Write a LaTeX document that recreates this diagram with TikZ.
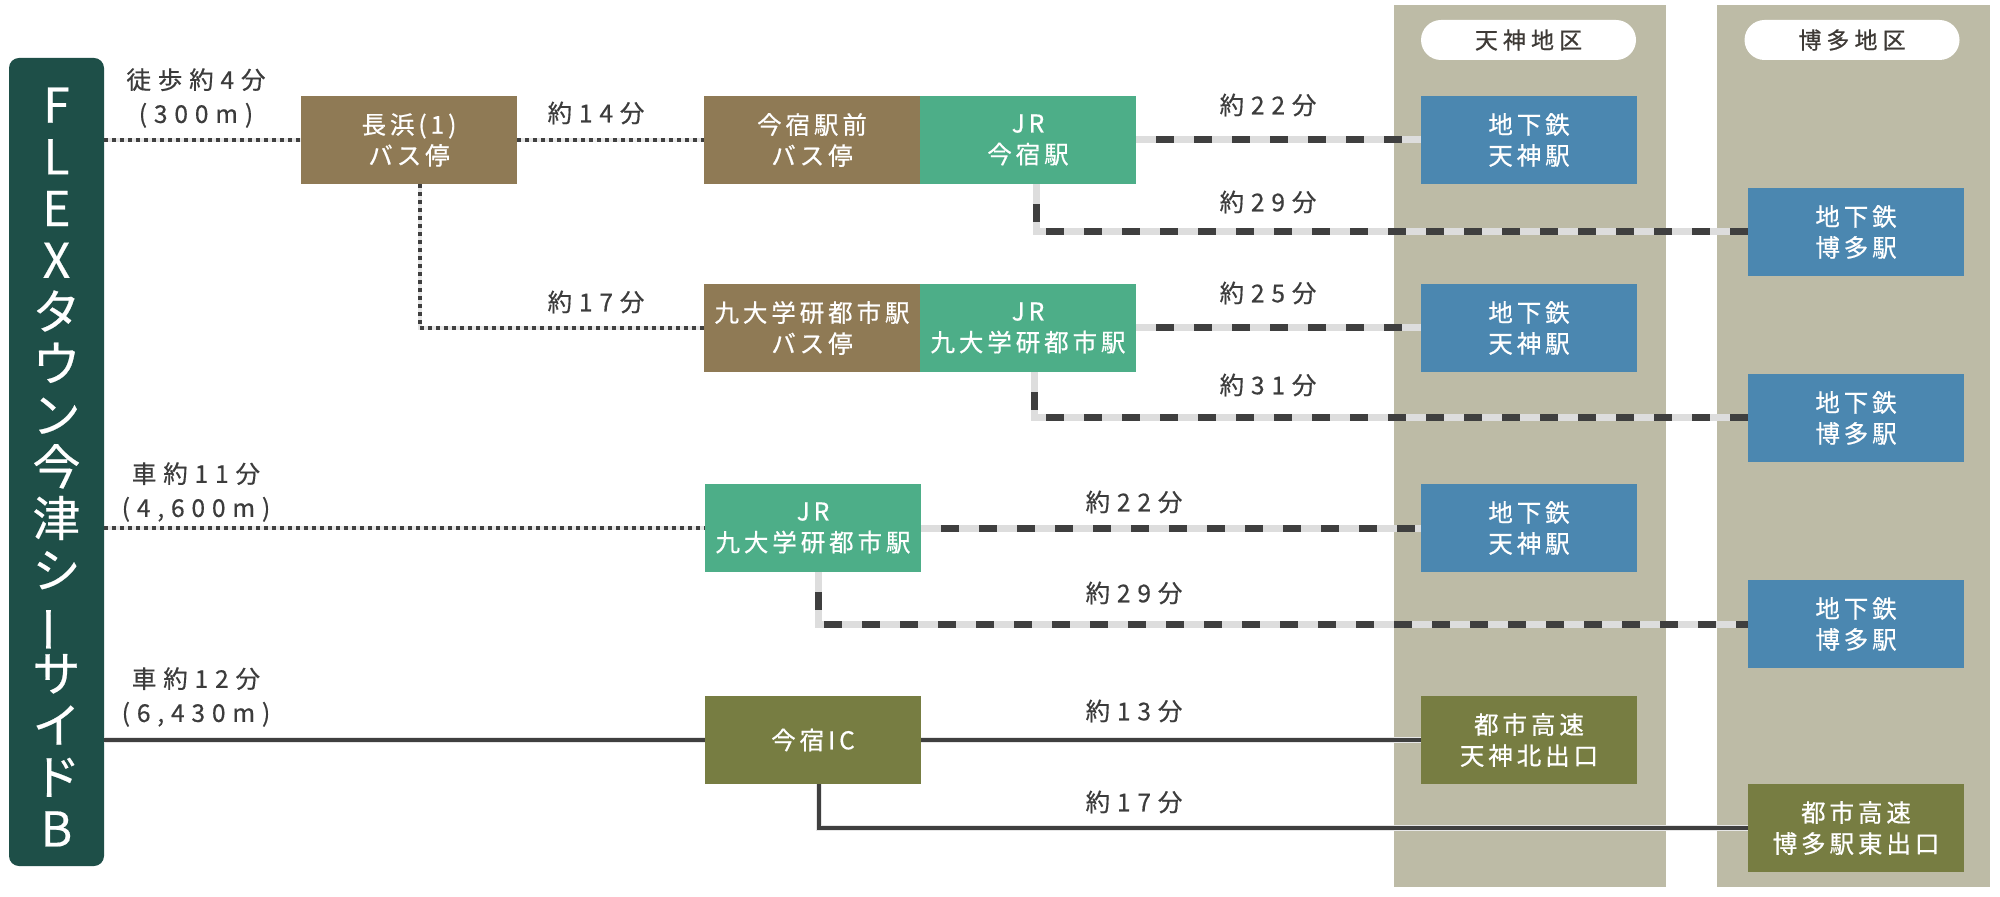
\documentclass[tikz,border=0pt]{standalone}
\usepackage{fontspec}
\setmainfont{Noto Sans CJK JP}
\newfontfamily\boxf[LetterSpace=16,FakeBold=0.6]{Noto Sans CJK JP}
\newfontfamily\labf[LetterSpace=28,FakeBold=0.5]{Noto Sans CJK JP}
\newfontfamily\headf[LetterSpace=22,FakeBold=0.6]{Noto Sans CJK JP}
\newfontfamily\flexf[FakeBold=0.4]{Noto Sans CJK JP}
\definecolor{flexgreen}{HTML}{1E4F48}
\definecolor{busbrown}{HTML}{8F7A55}
\definecolor{jrgreen}{HTML}{4DAE88}
\definecolor{subblue}{HTML}{4B87B0}
\definecolor{hwyolive}{HTML}{777D42}
\definecolor{colbg}{HTML}{BDBBA6}
\definecolor{labgray}{HTML}{3C3C3C}
\definecolor{headtext}{HTML}{3E3A36}
\definecolor{linedark}{HTML}{3F3F3F}
\definecolor{raillight}{HTML}{DDDDDD}
\definecolor{walklight}{HTML}{E6E6E6}
\begin{document}
\begin{tikzpicture}[x=0.5pt,y=-0.5pt,
  box/.style={minimum width=108pt, minimum height=44pt, inner sep=0pt, text=white, align=center, font=\boxf\fontsize{12.25pt}{15.5pt}\selectfont},
  bus/.style={box, fill=busbrown},
  jr/.style={box, fill=jrgreen},
  sub/.style={box, fill=subblue},
  hwy/.style={box, fill=hwyolive},
  lab/.style={text=labgray, align=center, inner sep=0pt, font=\labf\fontsize{12.25pt}{17pt}\selectfont},
  head/.style={fill=white, rounded corners=10pt, minimum width=107.5pt, minimum height=20pt, inner sep=0pt, text=headtext, font=\headf\fontsize{11.5pt}{12pt}\selectfont},
  flexbox/.style={fill=flexgreen, rounded corners=5pt, minimum width=47.5pt, minimum height=404pt, inner sep=0pt},
  flextext/.style={text=white, align=center, inner sep=0pt, font=\flexf\fontsize{24pt}{25.85pt}\selectfont},
  walk/.style={draw=linedark, line width=2pt, dash pattern=on 2pt off 2pt, preaction={draw=walklight, line width=2pt, solid}},
  rail/.style={draw=linedark, line width=3.5pt, dash pattern=on 9pt off 10pt, dash phase=9pt, preaction={draw=raillight, line width=3.5pt, solid}},
  road/.style={draw=linedark, line width=2.2pt, preaction={draw=walklight, line width=3.4pt}}
]
\useasboundingbox (0,0) rectangle (2000,897);
\fill[white] (0,0) rectangle (2000,897);
% district columns
\fill[colbg] (1394,5) rectangle (1666,887);
\fill[colbg] (1717,5) rectangle (1990,887);
\node[head] (hT) at (1528.5,40) {天神地区};
\node[head] (hH) at (1852,40) {博多地区};
% origin
\node[flexbox] (flex) at (56.5,462) {};
\node[flextext] (flext) at (56.5,467) {F\\L\\E\\X\\タ\\ウ\\ン\\今\\津\\シ\\\rotatebox[origin=c]{90}{ー}\\サ\\イ\\ド\\B};
% boxes
\node[bus] (nagahama) at (409,140) {長浜(1)\\バス停};
\node[bus] (imabus) at (812,140) {今宿駅前\\バス停};
\node[jr] (jrima) at (1028,140) {JR\\今宿駅};
\node[sub] (ten1) at (1529,140) {地下鉄\\天神駅};
\node[sub] (hak1) at (1856,232) {地下鉄\\博多駅};
\node[bus] (kyubus) at (812,328) {九大学研都市駅\\バス停};
\node[jr] (jrkyu) at (1028,328) {JR\\九大学研都市駅};
\node[sub] (ten2) at (1529,328) {地下鉄\\天神駅};
\node[sub] (hak2) at (1856,418) {地下鉄\\博多駅};
\node[jr] (jrkyu2) at (813,528) {JR\\九大学研都市駅};
\node[sub] (ten3) at (1529,528) {地下鉄\\天神駅};
\node[sub] (hak3) at (1856,624) {地下鉄\\博多駅};
\node[hwy] (ic) at (813,740) {今宿IC};
\node[hwy] (tenx) at (1529,740) {都市高速\\天神北出口};
\node[hwy] (hakx) at (1856,828) {都市高速\\博多駅東出口};
% labels
\node[lab] (lw) at (196,98) {徒歩約4分\\(300m)};
\node[lab] (l14) at (596,113) {約14分};
\node[lab] (l17) at (596,302) {約17分};
\node[lab] (l22a) at (1268,105) {約22分};
\node[lab] (l29a) at (1268,202) {約29分};
\node[lab] (l25) at (1268,293) {約25分};
\node[lab] (l31) at (1268,385) {約31分};
\node[lab] (lc1) at (196,492) {車約11分\\(4,600m)};
\node[lab] (l22b) at (1134,502) {約22分};
\node[lab] (l29b) at (1134,593) {約29分};
\node[lab] (lc2) at (196,697) {車約12分\\(6,430m)};
\node[lab] (l13) at (1134,711) {約13分};
\node[lab] (l17b) at (1134,802) {約17分};
% connectors
\draw[walk] (flex.east |- nagahama) -- (nagahama.west);
\draw[walk] (nagahama.east) -- (imabus.west);
\draw[walk] ([xshift=5.5pt]nagahama.south) |- (kyubus.west);
\draw[rail] (jrima.east) -- (ten1.west);
\draw[rail] ([xshift=4pt]jrima.south) |- (hak1.west);
\draw[rail] (jrkyu.east) -- (ten2.west);
\draw[rail] ([xshift=3pt]jrkyu.south) |- (hak2.west);
\draw[walk] (flex.east |- jrkyu2) -- (jrkyu2.west);
\draw[rail] (jrkyu2.east) -- (ten3.west);
\draw[rail] ([xshift=2.5pt]jrkyu2.south) |- (hak3.west);
\draw[road] (flex.east |- ic) -- (ic.west);
\draw[road] (ic.east) -- (tenx.west);
\draw[road] ([xshift=3pt]ic.south) |- (hakx.west);
\end{tikzpicture}
\end{document}
